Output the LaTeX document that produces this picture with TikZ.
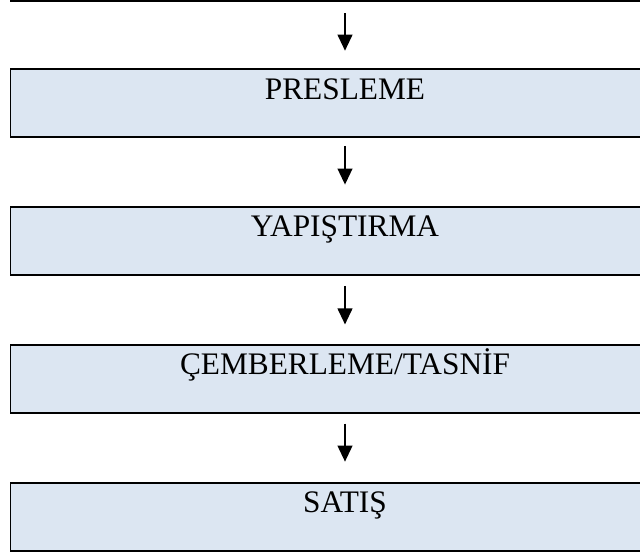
\documentclass[tikz,border=0pt]{standalone}
\usepackage{fontspec}
\setmainfont{Liberation Serif}
\usetikzlibrary{positioning,arrows.meta}

\definecolor{boxblue}{HTML}{DCE6F2}

\tikzstyle{stage}=[draw,fill=boxblue,line width=1.4pt,rectangle,inner ysep=0pt,
  minimum width=501.75pt,text height=22.5pt,text depth=28.5pt,
  font=\fontsize{23.5}{26}\selectfont]
\tikzstyle{flow}=[draw,line width=1.5pt,-{Triangle[length=12pt,width=11pt]}]

\begin{document}
\begin{tikzpicture}[x=0.75pt,y=-0.75pt]
\useasboundingbox (0,0) rectangle (640,553);

\node[stage] (b1) at (345,103) {PRESLEME};

\node[stage] (b0) [above=49.5pt of b1] {};
\node[stage] (b2) [below=51pt of b1] {YAPIŞTIRMA};
\node[stage] (b3) [below=51pt of b2] {ÇEMBERLEME/TASNİF};
\node[stage] (b4) [below=51pt of b3] {SATIŞ};

\path[flow] ([yshift=-8.5pt]b0.south) -- ([yshift=13pt]b1.north);
\path[flow] ([yshift=-6pt]b1.south) -- ([yshift=16pt]b2.north);
\path[flow] ([yshift=-7.5pt]b2.south) -- ([yshift=14.5pt]b3.north);
\path[flow] ([yshift=-7.5pt]b3.south) -- ([yshift=15pt]b4.north);

\end{tikzpicture}
\end{document}
